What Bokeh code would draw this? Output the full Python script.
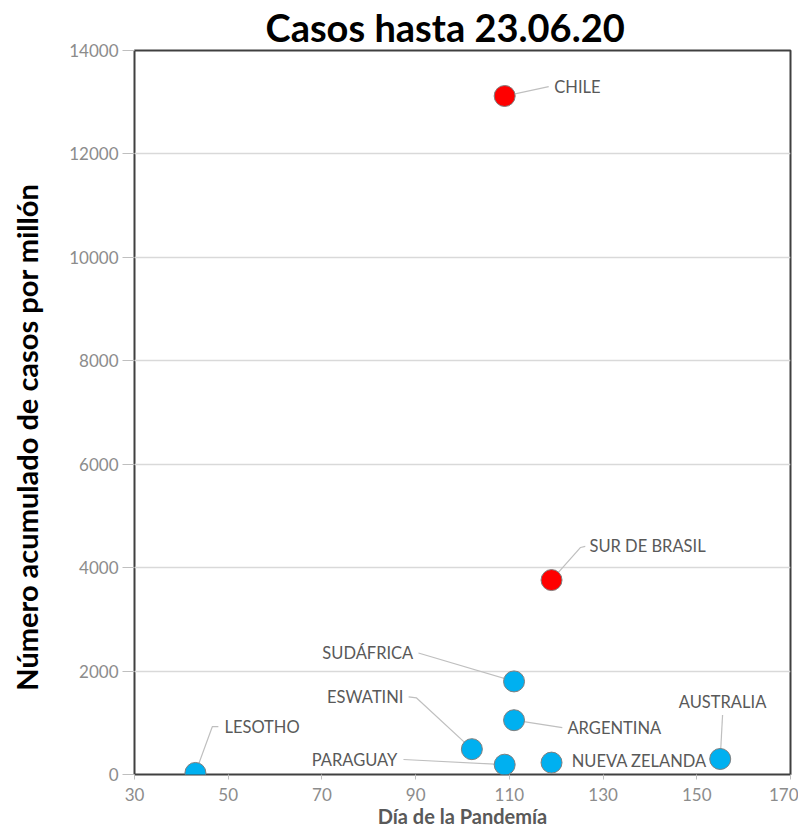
from bokeh.plotting import figure
from bokeh.models import ColumnDataSource, Range1d, FixedTicker, LabelSet
from bokeh.core.properties import value
from bokeh.embed import file_html
from bokeh.resources import INLINE

# ---- data ----
countries = ["CHILE", "SUR DE BRASIL", "SUDÁFRICA", "ARGENTINA", "ESWATINI",
             "PARAGUAY", "NUEVA ZELANDA", "AUSTRALIA", "LESOTHO"]
dia = [109, 119, 111, 111, 102, 109, 119, 155, 43]
casos = [13120, 3760, 1800, 1050, 490, 190, 230, 300, 30]
colors = ["#FF0000", "#FF0000", "#00B0F0", "#00B0F0", "#00B0F0",
          "#00B0F0", "#00B0F0", "#00B0F0", "#00B0F0"]
x_ticks = [30, 50, 70, 90, 110, 130, 150, 170]
y_ticks = [0, 2000, 4000, 6000, 8000, 10000, 12000, 14000]

# ---- annotation layout (label anchors & leader elbows, in data units) ----
lab_x = [119.6, 127.1, 89.5, 122.4, 87.4, 86.1, 123.3, 155.5, 49.2]
lab_y = [13300, 4410, 2350, 905, 1500, 290, 270, 1405, 924]
lab_align = ["left", "left", "right", "left", "right", "right", "left", "center", "left"]
lead_end_x = [118.4, 126.2, 90.6, 121.3, 88.5, 87.4, None, 155.5, 47.9]
lead_end_y = [13300, 4410, 2350, 905, 1500, 290, None, 1150, 924]
lead_elb_x = [118.4, 125.2, 90.6, 121.3, 90.2, 87.4, None, 155.5, 46.6]
lead_elb_y = [13300, 4390, 2350, 905, 1480, 290, None, 1150, 924]

p = figure(frame_width=656, frame_height=724, output_backend="svg", toolbar_location=None,
           x_range=Range1d(30, 170), y_range=Range1d(0, 14000),
           min_border_left=134, min_border_right=8, min_border_bottom=0,
           min_border_top=0)

p.title.text = "Casos hasta 23.06.20"
p.title.align = "left"
p.title.text_font = "Lato"
p.title.text_font_size = "38px"
p.title.text_font_style = "bold"
p.title.text_color = "black"
p.title.offset = 131
p.title.standoff = 2

p.background_fill_color = "white"
p.border_fill_color = "white"
p.outline_line_color = "#404040"
p.outline_line_width = 2
p.outline_line_alpha = 1

p.xgrid.grid_line_color = None
p.ygrid.grid_line_color = "#d9d9d9"
p.ygrid.grid_line_width = 1.5

p.xaxis.ticker = FixedTicker(ticks=x_ticks)
p.yaxis.ticker = FixedTicker(ticks=y_ticks)
p.xaxis.minor_tick_line_color = None
p.yaxis.minor_tick_line_color = None
for ax in (p.xaxis, p.yaxis):
    ax.axis_line_color = None
    ax.major_tick_line_color = "#bfbfbf"
    ax.major_tick_in = 0
    ax.major_label_text_font = "Lato"
    ax.major_label_text_font_size = "17px"
    ax.major_label_text_color = "#8c8c8c"
p.xaxis.major_tick_out = 5
p.xaxis.major_label_standoff = 8
p.yaxis.major_tick_out = 12
p.yaxis.major_label_standoff = 4

p.xaxis.axis_label = "Día de la Pandemía"
p.xaxis.axis_label_text_font = "Lato"
p.xaxis.axis_label_text_font_size = "20px"
p.xaxis.axis_label_text_font_style = "bold"
p.xaxis.axis_label_text_color = "#595959"
p.xaxis.axis_label_standoff = 0

p.yaxis.axis_label = "Número acumulado de casos por millón" + "\u00a0" * 7
p.yaxis.axis_label_text_font = "Lato"
p.yaxis.axis_label_text_font_size = "29px"
p.yaxis.axis_label_text_font_style = "bold"
p.yaxis.axis_label_text_color = "black"
p.yaxis.axis_label_standoff = 22

# leader lines
xs, ys = [], []
for i in range(len(countries)):
    if lead_end_x[i] is None:
        continue
    xs.append([dia[i], lead_elb_x[i], lead_end_x[i]])
    ys.append([casos[i], lead_elb_y[i], lead_end_y[i]])
p.multi_line(xs, ys, line_color="#bfbfbf", line_width=1.2)

src = ColumnDataSource(dict(x=dia, y=casos, c=colors, name=countries))
p.scatter("x", "y", source=src, size=21, fill_color="c", line_color="#7f7f7f",
          line_width=1)

for al in ["left", "right", "center"]:
    idx = [i for i in range(len(countries)) if lab_align[i] == al]
    lsrc = ColumnDataSource(dict(x=[lab_x[i] for i in idx], y=[lab_y[i] for i in idx],
                                 t=[countries[i] for i in idx]))
    p.add_layout(LabelSet(x="x", y="y", text="t", source=lsrc,
                          text_align=al, text_baseline="middle",
                          text_font=value("Lato"), text_font_size="16.5px",
                          text_color="#595959"))

open("out.html", "w").write(file_html(p, INLINE))
